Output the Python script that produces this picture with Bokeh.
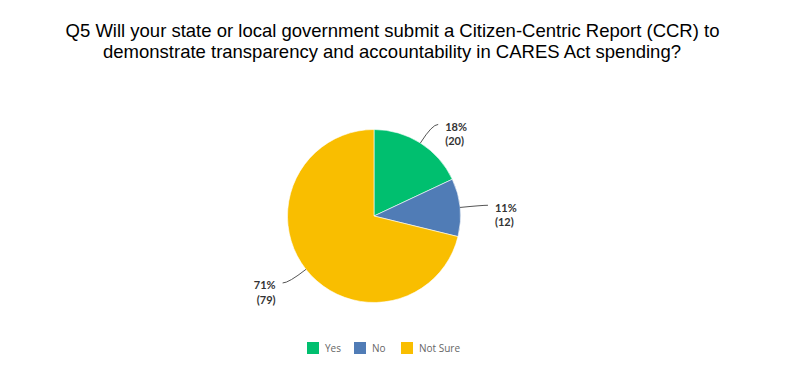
import math
from bokeh.plotting import figure
from bokeh.models import Range1d, Label, Legend, LegendItem, ColumnDataSource
from bokeh.embed import file_html
from bokeh.resources import INLINE

# ---- data ----
categories = ["Yes", "No", "Not Sure"]
counts = [20, 12, 79]
percent_labels = ["18%", "11%", "71%"]
count_labels = ["(20)", "(12)", "(79)"]
colors = ["#00BF6F", "#507CB6", "#F9BE00"]
title_lines = [
    "Q5 Will your state or local government submit a Citizen-Centric Report (CCR) to",
    "demonstrate transparency and accountability in CARES Act spending?",
]

W, H = 784, 358
p = figure(width=W, height=H, output_backend="svg", toolbar_location=None,
           x_range=Range1d(0, W), y_range=Range1d(0, H), min_border=0)
p.axis.visible = False
p.grid.visible = False
p.outline_line_color = None

# pie geometry (data units == pixels)
cx, cy, r = 373.5, 142.5, 86.5
total = float(sum(counts))
starts, ends, mids = [], [], []
acc = 0.0
for c in counts:
    a0 = math.pi / 2 - acc / total * 2 * math.pi
    acc += c
    a1 = math.pi / 2 - acc / total * 2 * math.pi
    starts.append(a0)
    ends.append(a1)
    mids.append((a0 + a1) / 2)

src = ColumnDataSource(dict(cat=categories, start=starts, end=ends, color=colors))
p.wedge(x=cx, y=cy, radius=r, start_angle="start", end_angle="end",
        direction="clock", fill_color="color", line_color="white",
        line_width=0.6, source=src)

# leader lines and labels
x0s, y0s, x1s, y1s, cxs, cys = [], [], [], [], [], []
tx, ty, aligns = [], [], []
for m in mids:
    ex, ey = cx + r * math.cos(m), cy + r * math.sin(m)
    rc = r + 22
    kx, ky = cx + rc * math.cos(m), cy + rc * math.sin(m)
    side = 1 if math.cos(m) >= 0 else -1
    fx, fy = kx + side * 6, ky
    x0s.append(ex); y0s.append(ey); x1s.append(fx); y1s.append(fy)
    cxs.append(kx); cys.append(ky)
    tx.append(fx + side * 7)
    ty.append(fy - 2)
    aligns.append("left" if side > 0 else "right")

p.quadratic(x0=x0s, y0=y0s, x1=x1s, y1=y1s, cx=cxs, cy=cys,
            line_color="#555555", line_width=1)

lsrc = ColumnDataSource(dict(x=tx, y=ty, pct=percent_labels, cnt=count_labels, align=aligns))
for col, off in (("pct", 0), ("cnt", 14.5)):
    p.text(x="x", y="y", text=col, text_align="align", text_baseline="middle",
           y_offset=off, text_font={"value": "Lato"}, text_font_style="bold",
           text_font_size="11px", text_color="#333333", source=lsrc)

# title
for i, line in enumerate(title_lines):
    p.add_layout(Label(x=392, y=328 - 21 * i, x_units="data", y_units="data",
                       text=line, text_align="center", text_baseline="alphabetic",
                       text_font="Liberation Sans", text_font_size="18.5px",
                       text_color="#000000"))

# legend
items = []
for cat, col in zip(categories, colors):
    rr = p.quad(left=[float("nan")], right=[float("nan")], bottom=[float("nan")],
                top=[float("nan")], fill_color=col, line_color=None)
    items.append(LegendItem(label=cat, renderers=[rr]))
legend = Legend(items=items, orientation="horizontal", location=(305, 3),
                glyph_width=15, glyph_height=15, label_standoff=5, spacing=7,
                padding=0, margin=0, border_line_color=None, background_fill_alpha=0,
                label_text_font="Open Sans", label_text_font_size="10px",
                label_text_color="#666666", label_height=15)
p.add_layout(legend, "center")

open("out.html", "w").write(file_html(p, INLINE))
